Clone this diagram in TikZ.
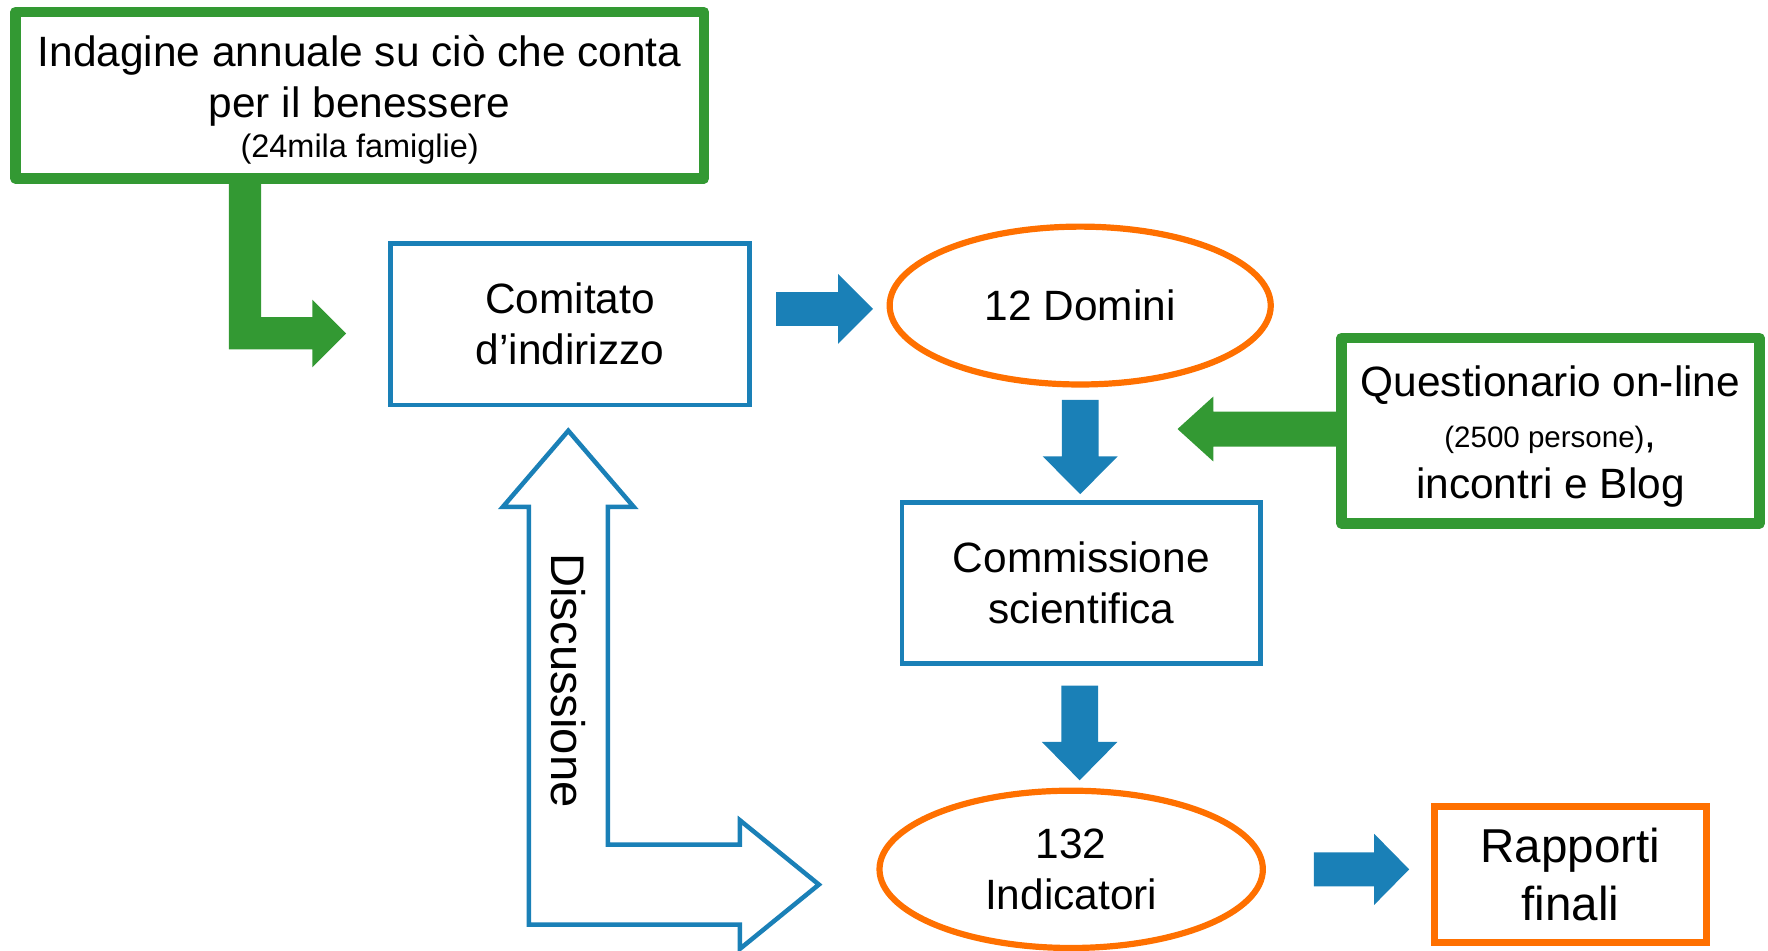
\documentclass[tikz,border=0pt]{standalone}
\usepackage{fontspec}
\setmainfont{Liberation Sans}
\usetikzlibrary{shapes.geometric,calc}
\definecolor{bluebar}{RGB}{26,128,183}
\definecolor{greenbar}{RGB}{51,153,51}
\definecolor{orangeline}{RGB}{255,112,0}
\tikzset{
  txt/.style={font=\fontsize{21.4}{25.6}\selectfont, align=center, inner sep=0pt},
  bluebox/.style={txt, draw=bluebar, line width=0.08cm},
  greenbox/.style={txt, draw=greenbar, line width=0.19cm, line join=round},
  orangebox/.style={txt, draw=orangeline, line width=0.13cm, font=\fontsize{24}{29.6}\selectfont},
  oval/.style={txt, ellipse, draw=orangeline, line width=0.11cm},
  bluearrow/.style={fill=bluebar},
  greenarrow/.style={fill=greenbar},
  hollowarrow/.style={draw=bluebar, line width=0.08cm}
}
\begin{document}
\begin{tikzpicture}
\useasboundingbox (0,0) rectangle (31.36,16.86);

% boxes and ovals
\node[greenbox, minimum width=12.21cm, minimum height=2.95cm] (indagine) at (6.38,15.17) {};
\node[txt] (indaginetext) at ([yshift=-0.08cm]indagine.center)
  {Indagine annuale su ciò che conta\\per il benessere\\[-5.7pt]{\fontsize{16.4}{19}\selectfont(24mila famiglie)}};
\node[bluebox, minimum width=6.37cm, minimum height=2.86cm] (comitato) at (10.11,11.11) {Comitato\\d’indirizzo};
\node[oval, minimum width=6.76cm, minimum height=2.8cm] (domini) at (19.16,11.44) {12 Domini};
\node[greenbox, minimum width=7.41cm, minimum height=3.29cm] (questionario) at (27.5,9.22) {};
\node[txt] (questionariotext) at ([yshift=-0.1cm]questionario.center)
  {Questionario on-line\\{\fontsize{14.9}{18}\selectfont(2500 persone)},\\incontri e Blog};
\node[bluebox, minimum width=6.36cm, minimum height=2.86cm] (commissione) at (19.18,6.52) {Commissione\\scientifica};
\node[oval, minimum width=6.8cm, minimum height=2.79cm] (indicatori) at (19.0,1.44) {132\\Indicatori};
\node[orangebox, minimum width=4.82cm, minimum height=2.41cm] (rapporti) at (27.855,1.35) {Rapporti\\finali};

% green arrows
\coordinate (f) at ($(indagine.south)+(-2.035,0)$);
\fill[greenarrow] (f) ++(-0.285,0) -- ++(0,-2.935) -- ++(1.48,0) -- ++(0,-0.32) -- ++(0.6,0.6)
  -- ++(-0.6,0.6) -- ++(0,-0.31) -- ++(-0.91,0) -- ++(0,2.365) -- cycle;
\coordinate (e) at ($(questionario.west)+(0,0.03)$);
\fill[greenarrow] (e) ++(0,0.31) -- ++(-2.18,0) -- ++(0,0.265) -- ++(-0.634,-0.575)
  -- ++(0.634,-0.575) -- ++(0,0.265) -- ++(2.18,0) -- cycle;

% blue arrows
\coordinate (a) at ($(comitato.east)+(0.43,0.27)$);
\fill[bluearrow] (a) ++(0,0.3) -- ++(1.1,0) -- ++(0,0.32) -- ++(0.62,-0.62)
  -- ++(-0.62,-0.62) -- ++(0,0.32) -- ++(-1.1,0) -- cycle;
\coordinate (b) at ($(domini.south)+(0,-0.22)$);
\fill[bluearrow] (b) ++(-0.326,0) -- ++(0,-1.0) -- ++(-0.339,0) -- ++(0.665,-0.67)
  -- ++(0.665,0.67) -- ++(-0.339,0) -- ++(0,1.0) -- cycle;
\coordinate (c) at ($(commissione.south)+(-0.03,-0.35)$);
\fill[bluearrow] (c) ++(-0.326,0) -- ++(0,-1.0) -- ++(-0.344,0) -- ++(0.67,-0.68)
  -- ++(0.67,0.68) -- ++(-0.344,0) -- ++(0,1.0) -- cycle;
\coordinate (d) at ($(indicatori.east)+(0.85,0)$);
\fill[bluearrow] (d) ++(0,0.3) -- ++(1.07,0) -- ++(0,0.33) -- ++(0.62,-0.63)
  -- ++(-0.62,-0.63) -- ++(0,0.33) -- ++(-1.07,0) -- cycle;

% discussione
\coordinate (dtop) at ($(comitato.south)+(-0.03,-0.42)$);
\coordinate (dright) at ($(indicatori.west)+(-1.02,-0.27)$);
\draw[hollowarrow] (dtop) -- ++(1.16,-1.35) -- ++(-0.46,0) |- ($(dright)+(-1.4,0.71)$)
  -- ++(0,0.43) -- (dright) -- ++(-1.4,-1.14) -- ++(0,0.43) -| ($(dtop)+(-0.7,-1.35)$)
  -- ++(-0.46,0) -- cycle;
\node[font=\fontsize{23.8}{28}\selectfont, rotate=-90] (discussione) at ($(dtop)+(0,-4.43)$) {Discussione};
\end{tikzpicture}
\end{document}
